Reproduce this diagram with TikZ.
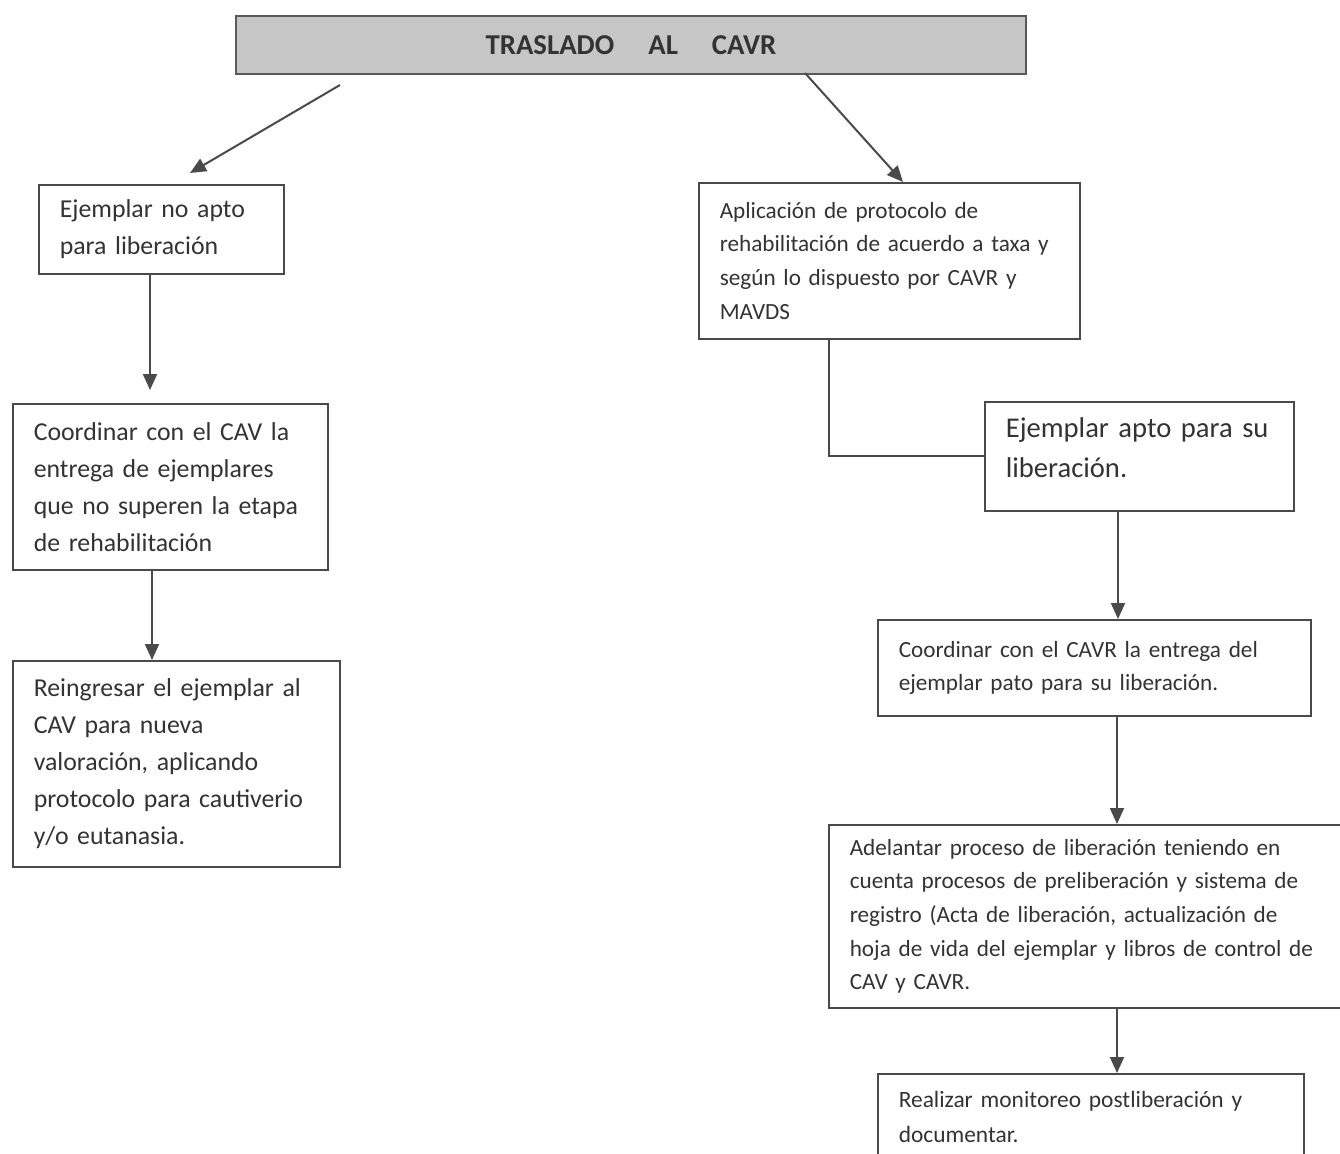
\documentclass[tikz,border=0pt]{standalone}
\usepackage{fontspec}
\setmainfont{Carlito}
\usetikzlibrary{arrows.meta}
\definecolor{ink}{HTML}{333333}
\definecolor{edge}{HTML}{4A4A4A}
\definecolor{titlefill}{HTML}{C6C6C6}
\tikzset{
  boxL/.style={draw=edge, line width=0.8pt, anchor=north west, align=left,
    inner xsep=10.5pt, inner ysep=3pt, text=ink,
    font=\fontsize{12.9pt}{18.5pt}\selectfont},
  boxR/.style={draw=edge, line width=0.8pt, anchor=north west, align=left,
    inner xsep=10.5pt, inner ysep=3pt, text=ink,
    font=\fontsize{11.6pt}{16.8pt}\selectfont},
  conn/.style={draw=edge, line width=1pt},
  arr/.style={conn, -{Triangle[width=7pt,length=8pt]}}
}
\begin{document}
\begin{tikzpicture}[x=0.5pt,y=-0.5pt]
\useasboundingbox (0,0) rectangle (1340,1153);
\fill[white] (0,0) rectangle (1340,1153);

\node[draw=gray!70!black, fill=titlefill, line width=1pt, anchor=north west,
  minimum width=395pt, minimum height=29pt, inner sep=0pt, text=ink,
  font=\bfseries\fontsize{14.4pt}{17pt}\selectfont]
  (title) at (235,15) {TRASLADO\hspace{17pt}AL\hspace{17pt}CAVR};

\node[boxL, minimum width=122.5pt, minimum height=44.5pt, text width=101.5pt]
  (A) at (38,184) {\mbox{Ejemplar no apto}\\\mbox{para liberación}};
\node[boxL, minimum width=157.5pt, minimum height=83pt, text width=136.5pt]
  (B) at (12,403) {\mbox{Coordinar con el CAV la}\\\mbox{entrega de ejemplares}\\\mbox{que no superen la etapa}\\\mbox{de rehabilitación}};
\node[boxL, minimum width=163.5pt, minimum height=103pt, text width=142.5pt]
  (C) at (12,660) {\mbox{Reingresar el ejemplar al}\\\mbox{CAV para nueva}\\\mbox{valoración, aplicando}\\\mbox{protocolo para cautiverio}\\\mbox{y/o eutanasia.}};

\node[boxR, minimum width=190.5pt, minimum height=78pt, text width=169.5pt]
  (D) at (698,182) {\mbox{Aplicación de protocolo de}\\\mbox{rehabilitación de acuerdo a taxa y}\\\mbox{según lo dispuesto por CAVR y}\\\mbox{MAVDS}};
\node[boxR, minimum width=154.5pt, minimum height=54.5pt, text width=133.5pt,
  font=\fontsize{14.3pt}{20pt}\selectfont]
  (E) at (984,401) {\mbox{Ejemplar apto para su}\\\mbox{liberación.}\rule[-9pt]{0pt}{9pt}};
\node[boxR, minimum width=216.5pt, minimum height=48pt, text width=195.5pt]
  (F) at (877,619) {\mbox{Coordinar con el CAVR la entrega del}\\\mbox{ejemplar pato para su liberación.}};
\node[boxR, minimum width=260pt, minimum height=91.5pt, text width=239pt]
  (G) at (828,824) {\mbox{Adelantar proceso de liberación teniendo en}\\\mbox{cuenta procesos de preliberación y sistema de}\\\mbox{registro (Acta de liberación, actualización de}\\\mbox{hoja de vida del ejemplar y libros de control de}\\\mbox{CAV y CAVR.}};
\node[boxR, minimum width=213pt, minimum height=43.5pt, text width=192pt,
  font=\fontsize{11.7pt}{17.5pt}\selectfont]
  (H) at (877,1073) {\mbox{Realizar monitoreo postliberación y}\\\mbox{documentar.}};

% connectors
\coordinate (s1) at (340,85);
\coordinate (t1) at (190,173);
\draw[arr] (s1) -- (t1);

\coordinate (s2) at (805,73);
\coordinate (t2) at (903,182);
\draw[arr] (s2) -- (t2);

\coordinate (tAB) at (150,390);
\draw[arr] (A.south -| tAB) -- (tAB);

\coordinate (xBC) at (152,0);
\draw[arr] (B.south -| xBC) -- (C.north -| xBC);

\coordinate (xDE) at (829,0);
\draw[conn] (D.south -| xDE) |- (E.west);

\coordinate (xEF) at (1118,0);
\draw[arr] (E.south -| xEF) -- (F.north -| xEF);

\coordinate (xFG) at (1117,0);
\draw[arr] (F.south -| xFG) -- (G.north -| xFG);
\draw[arr] (G.south -| xFG) -- (H.north -| xFG);
\end{tikzpicture}
\end{document}
